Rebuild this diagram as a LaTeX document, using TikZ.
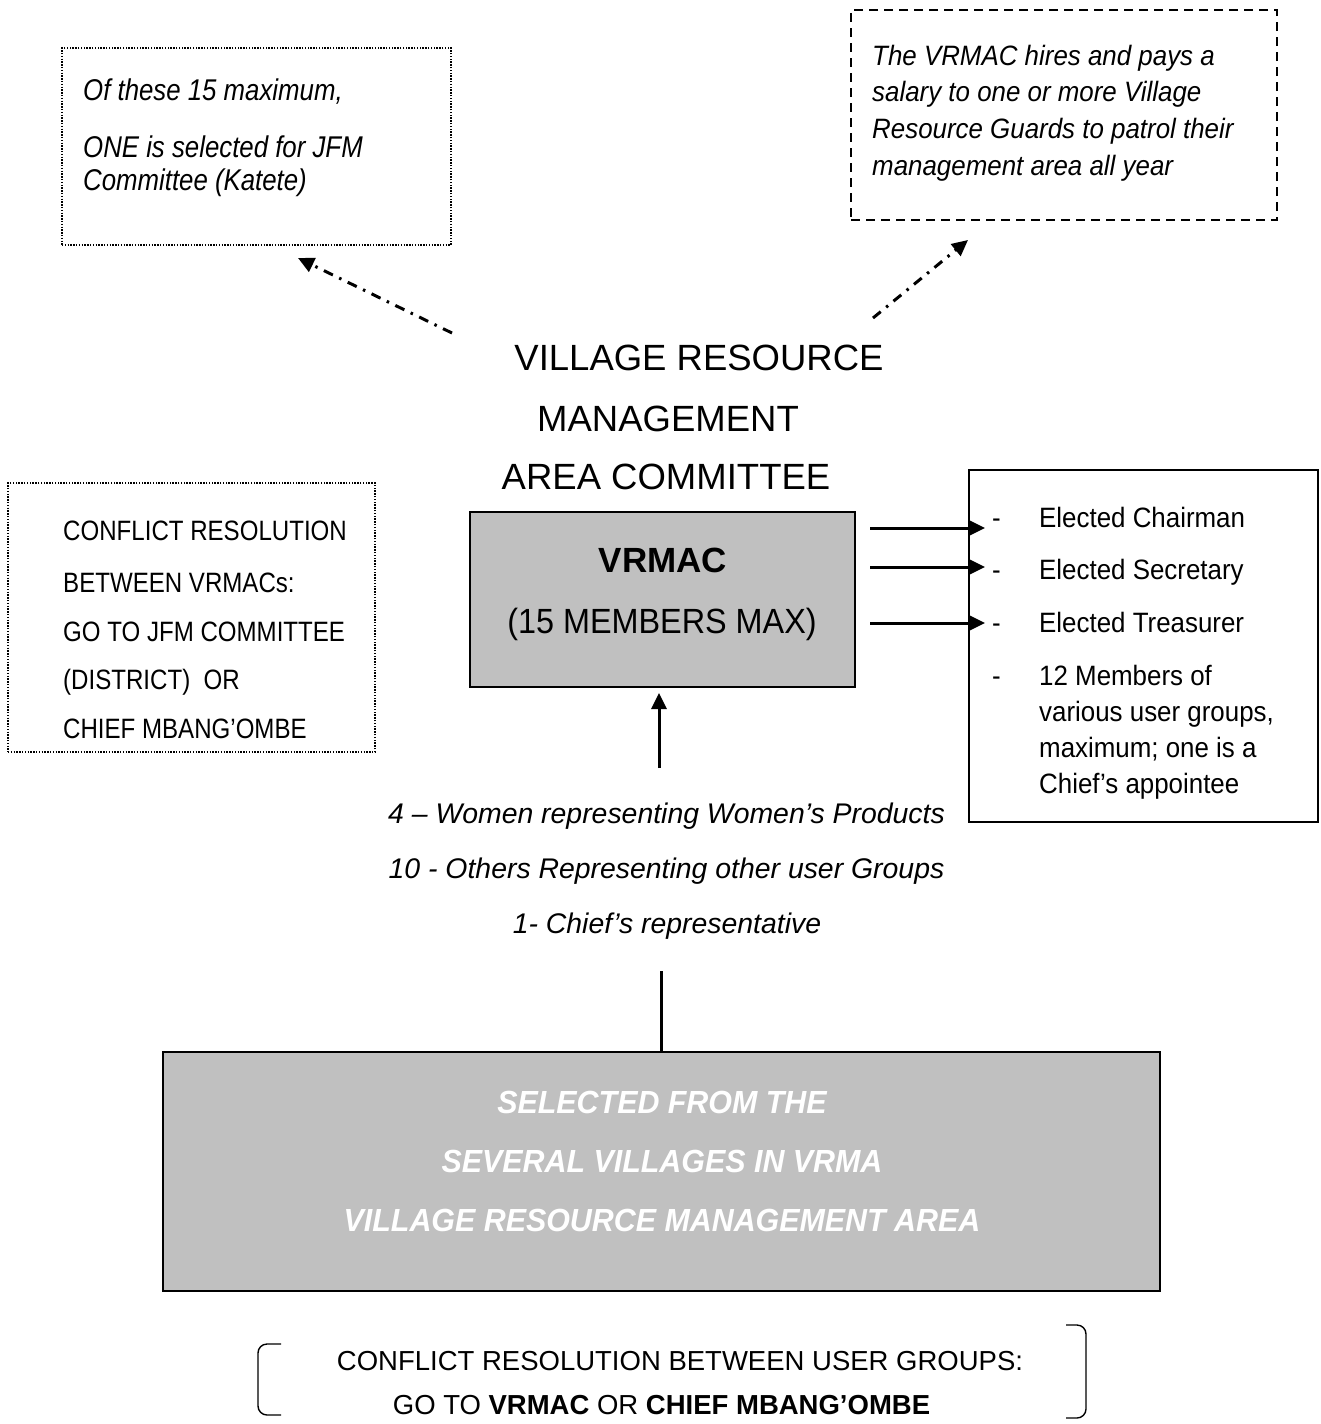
\documentclass[tikz,border=0pt]{standalone}
\usepackage{fontspec}
\setmainfont{Liberation Sans}
\newfontfamily\nA{Liberation Sans}[FakeStretch=0.86]
\newfontfamily\nB{Liberation Sans}[FakeStretch=0.925]
\newfontfamily\nC{Liberation Sans}[FakeStretch=0.95]
\usetikzlibrary{arrows.meta}
\definecolor{gr}{HTML}{C0C0C0}
\newcommand\fs[1]{\fontsize{#1}{#1}\selectfont}
\begin{document}
\begin{tikzpicture}[x=1pt,y=-1pt,
  solidbox/.style={draw, line width=1.8pt, inner sep=0pt, outer sep=0pt},
  dotbox/.style={draw, line width=1.8pt, dash pattern=on 1.4pt off 1.4pt, inner sep=0pt, outer sep=0pt},
  dashbox/.style={draw, line width=1.8pt, dash pattern=on 9pt off 6pt, inner sep=0pt, outer sep=0pt},
  graybox/.style={solidbox, fill=gr},
  tw/.style={inner sep=0pt, anchor=base west},
  tc/.style={inner sep=0pt, anchor=base},
  ddarrow/.style={line width=3pt, dash pattern=on 10pt off 7pt on 2.5pt off 7pt, -{Triangle[length=16pt,width=15pt]}},
  arr/.style={line width=3pt, -{Triangle[length=16pt,width=15pt]}},
  brk/.style={line width=1.4pt, rounded corners=9pt}
]
\useasboundingbox (0,0) rectangle (1320,1424);

% boxes
\node[dotbox, minimum width=389pt, minimum height=197pt] (tl) at (256.5,146.5) {};
\node[dashbox, minimum width=426pt, minimum height=210pt] (tr) at (1064,115) {};
\node[dotbox, minimum width=367pt, minimum height=269pt] (lb) at (191.5,617.5) {};
\node[graybox, minimum width=385pt, minimum height=175pt] (vr) at (662.5,599.5) {};
\node[solidbox, minimum width=349pt, minimum height=352pt] (rb) at (1143.5,646) {};
\node[graybox, minimum width=997pt, minimum height=239pt] (bg) at (661.5,1171.5) {};

% top-left text
\begin{scope}[every node/.style={tw, font=\nA\fs{30}\itshape}]
\node (tl1) at (83,100) {Of these 15 maximum,};
\node (tl2) at (83,157) {ONE is selected for JFM};
\node (tl3) at (83,190) {Committee (Katete)};
\end{scope}

% top-right text
\begin{scope}[every node/.style={tw, font=\nB\fs{28}\itshape}]
\node (tr1) at (872,65) {The VRMAC hires and pays a};
\node (tr2) at (872,101) {salary to one or more Village};
\node (tr3) at (872,138) {Resource Guards to patrol their};
\node (tr4) at (872,175) {management area all year};
\end{scope}

% title
\begin{scope}[every node/.style={tc, font=\fs{36.5}}]
\node (ti1) at (699,370) {VILLAGE RESOURCE};
\node (ti2) at (668,431) {MANAGEMENT};
\node (ti3) at (666,489) {AREA COMMITTEE};
\end{scope}

% VRMAC box text
\node[tc, font=\fs{35}\bfseries] (v1) at (663,572) {VRMAC};
\node[tc, font=\nB\fs{35}] (v2) at (662,633) {(15 MEMBERS MAX)};

% left box text
\begin{scope}[every node/.style={tw, font=\nA\fs{28}}]
\node (l1) at (63,540) {CONFLICT RESOLUTION};
\node (l2) at (63,592) {BETWEEN VRMACs:};
\node (l3) at (63,641) {GO TO JFM COMMITTEE};
\node (l4) at (63,689) {(DISTRICT)\ \ OR};
\node (l5) at (63,738) {CHIEF MBANG’OMBE};
\end{scope}

% right box text
\begin{scope}[every node/.style={tw, font=\nB\fs{28}}]
\node (d1) at (992,527) {-};
\node (r1) at (1039,527) {Elected Chairman};
\node (d2) at (992,579) {-};
\node (r2) at (1039,579) {Elected Secretary};
\node (d3) at (992,632) {-};
\node (r3) at (1039,632) {Elected Treasurer};
\node (d4) at (992,685) {-};
\node (r4) at (1039,685) {12 Members of};
\node (r5) at (1039,721) {various user groups,};
\node (r6) at (1039,757) {maximum; one is a};
\node (r7) at (1039,793) {Chief’s appointee};
\end{scope}

% member lines
\begin{scope}[every node/.style={tc, font=\fs{28.4}\itshape}]
\node (m1) at (666.5,823) {4 – Women representing Women’s Products};
\node (m2) at (666.5,878) {10 - Others Representing other user Groups};
\node (m3) at (667,933) {1- Chief’s representative};
\end{scope}

% bottom gray box text
\begin{scope}[every node/.style={tc, text=white, font=\nC\fs{32}\bfseries\itshape}]
\node (b1) at (662,1113) {SELECTED FROM THE};
\node (b2) at (662,1172) {SEVERAL VILLAGES IN VRMA};
\node (b3) at (662,1231) {VILLAGE RESOURCE MANAGEMENT AREA};
\end{scope}

% bottom conflict text
\node[tc, font=\fs{27.5}] (c1) at (680,1370) {CONFLICT RESOLUTION BETWEEN USER GROUPS:};
\node[tc, font=\fs{27.5}] (c2) at (661.5,1414) {GO TO \textbf{VRMAC} OR \textbf{CHIEF MBANG’OMBE}};

% brackets
\coordinate (bl1) at (281,1344);
\coordinate (bl2) at (258,1344);
\coordinate (bl3) at (258,1415);
\coordinate (bl4) at (281,1415);
\draw[brk] (bl1) -- (bl2) -- (bl3) -- (bl4);
\coordinate (br1) at (1066,1325);
\coordinate (br2) at (1086,1325);
\coordinate (br3) at (1086,1418);
\coordinate (br4) at (1066,1418);
\draw[brk] (br1) -- (br2) -- (br3) -- (br4);

% dash-dot arrows
\coordinate (p1s) at (452,333);
\coordinate (p1e) at (298,258);
\draw[ddarrow] (p1s) -- (p1e);
\coordinate (p2s) at (873,318);
\coordinate (p2e) at (968,240);
\draw[ddarrow] (p2s) -- (p2e);

% arrows to right box
\coordinate (a1s) at (870,528);
\coordinate (a1e) at (985,528);
\coordinate (a2s) at (870,567);
\coordinate (a2e) at (985,567);
\coordinate (a3s) at (870,623);
\coordinate (a3e) at (985,623);
\draw[arr] (a1s) -- (a1e);
\draw[arr] (a2s) -- (a2e);
\draw[arr] (a3s) -- (a3e);

% up arrow into VRMAC
\coordinate (u1) at (659,768);
\coordinate (u2) at (659,693);
\draw[arr] (u1) -- (u2);

% line from bottom box
\coordinate (k1) at (661,971);
\draw[line width=3pt] (k1) -- (k1 |- bg.north);
\end{tikzpicture}
\end{document}
